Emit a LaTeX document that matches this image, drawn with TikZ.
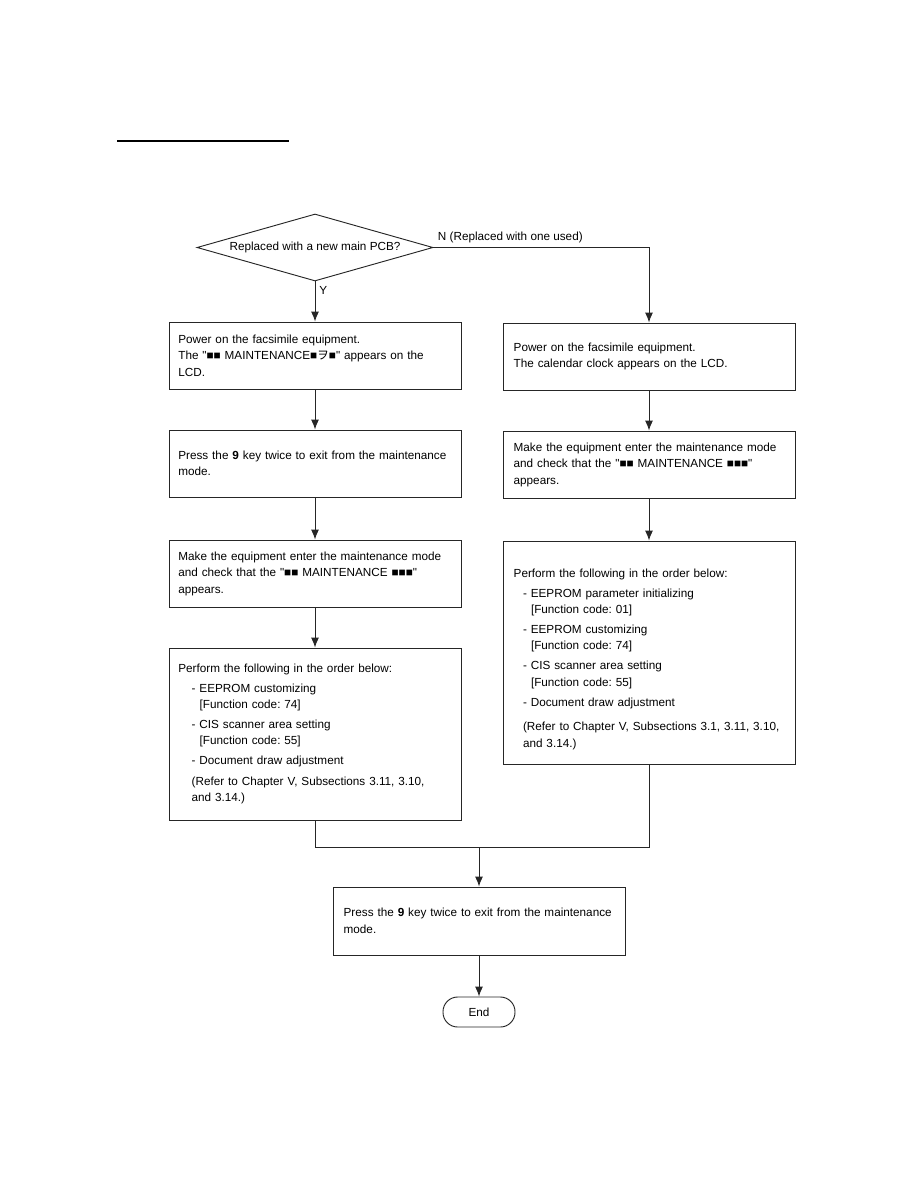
\documentclass[tikz,border=0pt]{standalone}
\usepackage{fontspec}
\setmainfont{Liberation Sans}[Ligatures=TeXOff]
\newfontfamily\jpfont{Noto Sans CJK JP}
\usetikzlibrary{shapes.geometric,arrows.meta}
\frenchspacing

\tikzset{
  testo/.style={font=\fontsize{8.8}{12.4}\selectfont},
  passo/.style={testo, draw=black!85, line width=0.7pt, minimum height=50.25pt,
    text width=205pt, inner xsep=7pt, align=left},
  passodx/.style={passo, text width=203pt, inner xsep=8pt},
  scelta/.style={testo, diamond, draw=black!85, line width=0.7pt, aspect=3.5,
    inner sep=0pt, minimum width=177pt, minimum height=50.25pt},
  fine/.style={testo, draw=black!85, line width=0.7pt, rounded corners=11pt,
    minimum width=54pt, minimum height=22.5pt},
  freccia/.style={->, line width=0.7pt, draw=black!85}
}

\begin{document}
\begin{tikzpicture}[x=0.75pt, y=-0.75pt, >={Latex[length=7.5pt,width=6pt]}]
  \useasboundingbox (0,0) rectangle (918,1188);
  \draw[line width=0.9pt] (117,141) -- (289,141);

  % Nodi
  \node[scelta] (pcb) at (315,247.5) {Replaced with a new main PCB?};

  \node[passo] (l1) at (315,355.5) {Power on the facsimile equipment.\\
    The "■■ MAINTENANCE■{\jpfont ヲ}■" appears on the\\LCD.};
  \node[passo] (l2) at (315,463.5) {Press the \textbf{9} key twice to exit from the maintenance\\mode.};
  \node[passo] (l3) at (315,573.5) {Make the equipment enter the maintenance mode\\
    and check that the "■■ MAINTENANCE ■■■"\\appears.};
  \node[passo, minimum height=129pt] (l4) at (315,734) {Perform the following in the order below:\\[2.5pt]
    \hspace*{10pt}- EEPROM customizing\\
    \hspace*{16pt}[Function code: 74]\\[2.5pt]
    \hspace*{10pt}- CIS scanner area setting\\
    \hspace*{16pt}[Function code: 55]\\[2.5pt]
    \hspace*{10pt}- Document draw adjustment\\[3pt]
    \hspace*{10pt}(Refer to Chapter V, Subsections 3.11, 3.10,\\
    \hspace*{10pt}and 3.14.)};

  \node[passodx] (r1) at (649,356.5) {Power on the facsimile equipment.\\
    The calendar clock appears on the LCD.};
  \node[passodx] (r2) at (649,464.5) {Make the equipment enter the maintenance mode\\
    and check that the "■■ MAINTENANCE ■■■"\\appears.};
  \node[passodx, minimum height=167.25pt] (r3) at (649,652.5) {\mbox{}\\[4pt]
    Perform the following in the order below:\\[2.5pt]
    \hspace*{7pt}- EEPROM parameter initializing\\
    \hspace*{13pt}[Function code: 01]\\[2.5pt]
    \hspace*{7pt}- EEPROM customizing\\
    \hspace*{13pt}[Function code: 74]\\[2.5pt]
    \hspace*{7pt}- CIS scanner area setting\\
    \hspace*{13pt}[Function code: 55]\\[2.5pt]
    \hspace*{7pt}- Document draw adjustment\\[6pt]
    \hspace*{7pt}(Refer to Chapter V, Subsections 3.1, 3.11, 3.10,\\
    \hspace*{7pt}and 3.14.)};

  \node[passodx, minimum height=51pt] (ultimo) at (479,921) {Press the \textbf{9} key twice to exit from the maintenance\\mode.};
  \node[fine] (end) at (479,1012) {End};
  \coordinate (unione) at (479,847);

  % Frecce
  \draw[freccia] (pcb.south) -- node[testo, pos=0, anchor=north west, inner sep=3pt] {Y} (l1.north);
  \draw[freccia] (pcb.east) -| node[testo, pos=0, anchor=south west, inner sep=3pt] {N (Replaced with one used)} (r1.north);
  \draw[freccia] (l1) -- (l2);
  \draw[freccia] (l2) -- (l3);
  \draw[freccia] (l3) -- (l4);
  \draw[freccia] (r1) -- (r2);
  \draw[freccia] (r2) -- (r3);
  \draw[line width=0.7pt, draw=black!85] (l4.south) |- (unione) -| (r3.south);
  \draw[freccia] (unione) -- (ultimo.north);
  \draw[freccia] (ultimo) -- (end);
\end{tikzpicture}
\end{document}
